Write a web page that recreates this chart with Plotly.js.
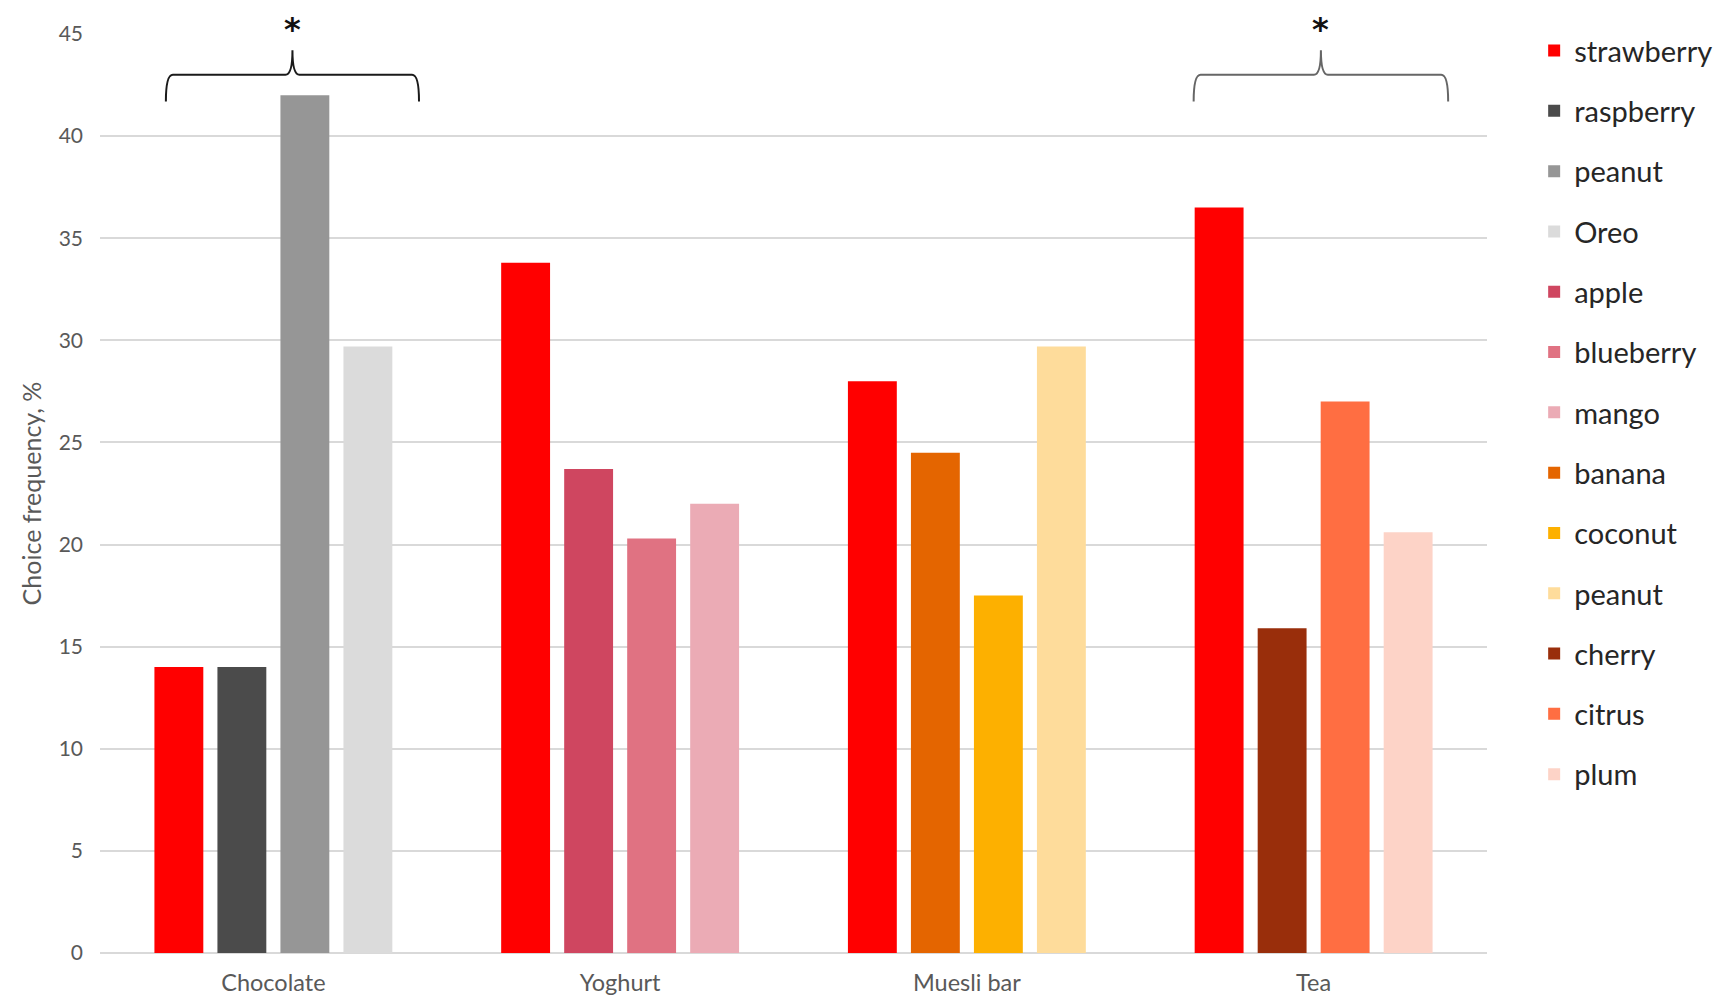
<!DOCTYPE html>
<html>
<head>
<meta charset="utf-8">
<script src="https://cdn.plot.ly/plotly-3.0.1.min.js"></script>
<style>
  html, body { margin: 0; padding: 0; background: #fff; }
  #chart { width: 1730px; height: 1001px; }
</style>
</head>
<body>
<div id="chart"></div>
<script>
var categories = ['Chocolate', 'Yoghurt', 'Muesli bar', 'Tea'];

// strawberry is the first bar of every group
var strawberry = [14.0, 33.8, 28.0, 36.5];

// the other three bars of each group, group by group
var otherNames = ['raspberry', 'peanut', 'Oreo',
                  'apple', 'blueberry', 'mango',
                  'banana', 'coconut', 'peanut',
                  'cherry', 'citrus', 'plum'];
var otherValues = [14.0, 42.0, 29.7,
                   23.7, 20.3, 22.0,
                   24.5, 17.5, 29.7,
                   15.9, 27.0, 20.6];

var strawberryColour = '#FF0000';
var otherColours = ['#4B4B4B', '#969696', '#DBDBDB',
                    '#CF4660', '#E07282', '#EBABB5',
                    '#E46500', '#FDB000', '#FEDC9B',
                    '#992E0B', '#FF6E42', '#FDD3C7'];

// significance braces: which group, and where the brace sits inside it
var braceGroups = ['Chocolate', 'Tea'];
var braceLeft = [-0.31, -0.346];
var braceRight = [0.42, 0.388];
var braceTip = [0.055, 0.021];
var braceColours = ['#1a1a1a', '#666666'];

var barWidth = 0.141;
var pitch = 0.1817;
function slotOffset(slot) {
  return (slot - 1.5) * pitch - barWidth / 2;
}

var data = [];
var trace0 = {
  x: categories,
  y: strawberry,
  name: 'strawberry',
  type: 'bar',
  width: barWidth,
  offset: slotOffset(0),
  marker: {color: strawberryColour},
  legendgroup: 'g0'
};
data.push(trace0);

otherNames.forEach(function(name, i) {
  data.push({
    x: [categories[Math.floor(i / 3)]],
    y: [otherValues[i]],
    name: name,
    type: 'bar',
    width: barWidth,
    offset: slotOffset(i % 3 + 1),
    marker: {color: otherColours[i]},
    legendgroup: 'g' + (i + 1)
  });
});

// brace shapes + asterisks
var shapes = [];
var annotations = [];
var yEnd = 41.7, yBar = 43.0, yPeak = 44.2, r = 0.02;
braceGroups.forEach(function(g, k) {
  var c = categories.indexOf(g);
  var x0 = c + braceLeft[k], x1 = c + braceRight[k], xc = c + braceTip[k];
  var path = 'M' + x0 + ',' + yEnd +
    ' Q' + x0 + ',' + yBar + ' ' + (x0 + r) + ',' + yBar +
    ' L' + (xc - r) + ',' + yBar +
    ' Q' + xc + ',' + yBar + ' ' + xc + ',' + yPeak +
    ' Q' + xc + ',' + yBar + ' ' + (xc + r) + ',' + yBar +
    ' L' + (x1 - r) + ',' + yBar +
    ' Q' + x1 + ',' + yBar + ' ' + x1 + ',' + yEnd;
  shapes.push({
    type: 'path', xref: 'x', yref: 'y', path: path,
    line: {color: braceColours[k], width: 2}
  });
  annotations.push({
    x: xc, y: 45, xref: 'x', yref: 'y', yshift: 5,
    text: '<b>*</b>', showarrow: false, yanchor: 'middle',
    font: {family: 'DejaVu Sans', size: 32, color: '#111'}
  });
});

var tickFont = {family: 'Lato, sans-serif', size: 23.5, color: '#595959'};

var layout = {
  width: 1730,
  height: 1001,
  margin: {l: 100, r: 240, t: 34, b: 48},
  paper_bgcolor: '#fff',
  plot_bgcolor: '#fff',
  barmode: 'overlay',
  showlegend: true,
  legend: {
    x: 1.034, xanchor: 'left',
    y: 1.0096, yanchor: 'top',
    traceorder: 'grouped',
    tracegroupgap: 19.6,
    maxheight: 1000,
    font: {family: 'Lato, sans-serif', size: 29, color: '#262626'},
    bgcolor: 'rgba(0,0,0,0)'
  },
  xaxis: {
    type: 'category',
    range: [-0.5, 3.5],
    showgrid: false,
    showline: false,
    zeroline: false,
    ticks: '',
    ticklabelstandoff: 13,
    tickfont: tickFont
  },
  yaxis: {
    range: [0, 45],
    dtick: 5,
    showgrid: true,
    gridcolor: '#D9D9D9',
    gridwidth: 1.5,
    zeroline: true,
    zerolinecolor: '#D9D9D9',
    zerolinewidth: 1.5,
    showline: false,
    ticks: '',
    ticklabelstandoff: 16,
    tickfont: {family: 'Lato, sans-serif', size: 21, color: '#595959'},
    title: {text: 'Choice frequency, %', font: {family: 'Lato, sans-serif', size: 25, color: '#595959'}, standoff: 9}
  },
  shapes: shapes,
  annotations: annotations
};

Plotly.newPlot('chart', data, layout, {displayModeBar: false});
</script>
</body>
</html>
